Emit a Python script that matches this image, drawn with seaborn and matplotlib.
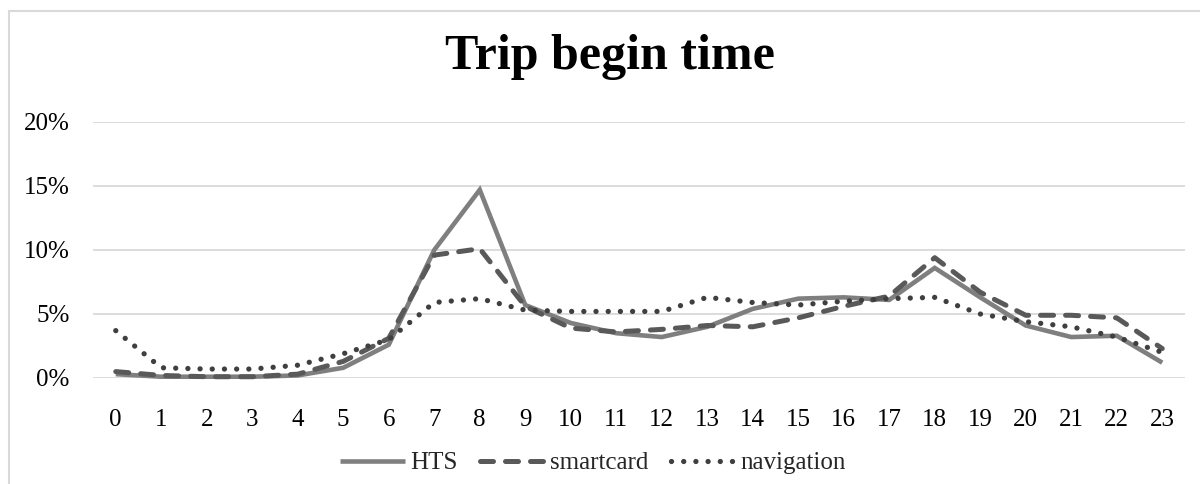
import matplotlib
matplotlib.use("Agg")
import matplotlib.pyplot as plt
from matplotlib.ticker import PercentFormatter, FixedLocator
from matplotlib.patches import Rectangle
import numpy as np
import pandas as pd
import seaborn as sns

# Share of trips (%) by hour of departure
hours = list(range(24))
hts = [0.3, 0.1, 0.1, 0.1, 0.2, 0.8, 2.6, 10.0, 14.7, 5.7, 4.3, 3.5, 3.2, 4.0,
       5.4, 6.2, 6.3, 6.1, 8.6, 6.3, 4.1, 3.2, 3.3, 1.2]
smartcard = [0.5, 0.2, 0.1, 0.1, 0.3, 1.3, 3.1, 9.6, 10.1, 5.6, 3.9, 3.6, 3.8, 4.1,
             4.0, 4.7, 5.6, 6.4, 9.4, 6.7, 4.9, 4.9, 4.7, 2.3]
navigation = [3.7, 0.8, 0.7, 0.7, 1.0, 1.9, 3.0, 5.9, 6.2, 5.3, 5.2, 5.2, 5.2, 6.3,
              5.9, 5.7, 6.0, 6.2, 6.3, 5.0, 4.4, 4.0, 3.2, 2.0]
series_names = ["HTS", "smartcard", "navigation"]
y_ticks = [0, 5, 10, 15, 20]

df = pd.DataFrame({"hour": hours, "HTS": hts, "smartcard": smartcard,
                   "navigation": navigation})
long_df = df.melt(id_vars="hour", var_name="series", value_name="share")
long_df["share"] = long_df["share"] / 100.0

sns.set_theme(style="white")
plt.rcParams["font.family"] = ["Liberation Serif", "DejaVu Serif"]

fig = plt.figure(figsize=(12, 4.84), dpi=100)
ax = fig.add_axes([93 / 1200, 1 - 378 / 484, (1185 - 93) / 1200, (378 - 122) / 484])

styles = {
    "HTS": dict(color="#7f7f7f", linestyle="-", linewidth=3.3),
    "smartcard": dict(color="#595959", linestyle=(0, (2.6, 2.4)), linewidth=3.6),
    "navigation": dict(color="#3f3f3f", linestyle=(0, (0.01, 2.3)), linewidth=3.8),
}

for name in series_names:
    sub = long_df[long_df["series"] == name]
    sns.lineplot(data=sub, x="hour", y="share", ax=ax, label=name,
                 clip_on=False, dash_capstyle="round",
                 solid_capstyle="butt", solid_joinstyle="miter", **styles[name])

ax.set_xlim(-0.5, 23.5)
ax.set_ylim(0, 0.20)
ax.xaxis.set_major_locator(FixedLocator(hours))
ax.set_xticklabels([str(h) for h in hours])
ax.yaxis.set_major_locator(FixedLocator([t / 100 for t in y_ticks]))
ax.yaxis.set_major_formatter(PercentFormatter(1.0, decimals=0))
ax.tick_params(axis="both", length=0, labelsize=18, colors="black")
ax.tick_params(axis="x", pad=22)
ax.tick_params(axis="y", pad=17)
ax.grid(axis="y", color="#d9d9d9", linewidth=1.3)
ax.grid(axis="x", visible=False)
ax.set_axisbelow(True)
for s in ax.spines.values():
    s.set_visible(False)
ax.set_xlabel("")
ax.set_ylabel("")

ax.legend_.remove()
handles, labels = ax.get_legend_handles_labels()
fig.legend(handles, labels, loc="center", bbox_to_anchor=(593 / 1200, 1 - 463 / 484),
           ncol=3, frameon=False, fontsize=18, handlelength=2.6, handletextpad=0.2,
           columnspacing=0.9)

fig.text(610 / 1200, 1 - 57 / 484, "Trip begin time", ha="center", va="center",
         fontsize=36, fontweight="bold", color="black")

# outer chart border
fig.patches.append(Rectangle((9 / 1200, -0.05), 1.2, 1 - 11 / 484 + 0.05,
                             transform=fig.transFigure, fill=False,
                             edgecolor="#d9d9d9", linewidth=1.5))

fig.savefig("out.png", dpi=100, facecolor="white")
